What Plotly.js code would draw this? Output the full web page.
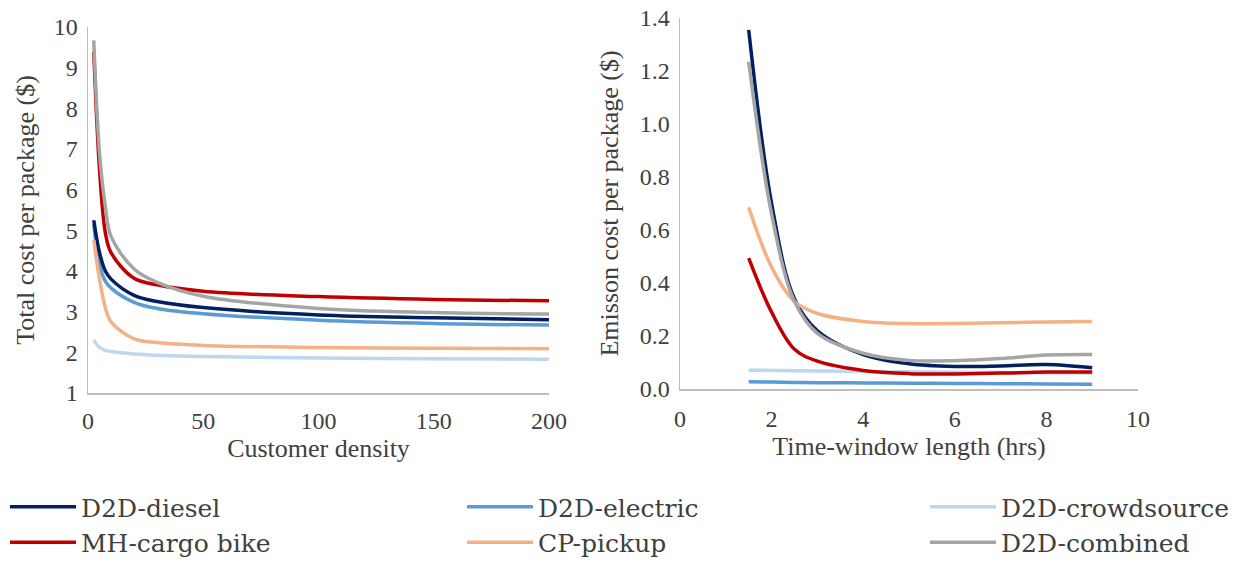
<!DOCTYPE html>
<html>
<head>
<meta charset="utf-8">
<script src="https://cdn.plot.ly/plotly-3.0.1.min.js"></script>
<style>html,body{margin:0;padding:0;background:#fff;}#chart{width:1233px;height:567px;}</style>
</head>
<body>
<div id="chart"></div>
<script>
// ---- Data ----
const seriesNames = ["D2D-diesel", "D2D-electric", "D2D-crowdsource", "MH-cargo bike", "CP-pickup", "D2D-combined"];
const seriesColors = ["#002060", "#5B9BD5", "#BDD7EE", "#C00000", "#F4B183", "#A5A5A5"];
const legendColumn = ["legend", "legend2", "legend3", "legend", "legend2", "legend3"];
const drawOrder = [1, 0, 2, 3, 4, 5];

// Left panel: total cost per package vs customer density
const densityX = [2.5, 5, 7.5, 10, 20, 30, 50, 100, 150, 200];
const costDiesel   = [5.25, 4.45, 4.00, 3.80, 3.40, 3.25, 3.10, 2.92, 2.85, 2.80];
const costElectric = [5.15, 4.15, 3.75, 3.58, 3.23, 3.08, 2.95, 2.79, 2.71, 2.67];
const costCrowd    = [2.30, 2.12, 2.05, 2.02, 1.96, 1.93, 1.90, 1.86, 1.84, 1.83];
const costCargo    = [9.40, 6.50, 4.95, 4.45, 3.82, 3.66, 3.50, 3.37, 3.30, 3.27];
const costPickup   = [4.76, 3.80, 3.10, 2.75, 2.33, 2.24, 2.17, 2.12, 2.10, 2.09];
const costCombined = [9.67, 6.90, 5.60, 4.85, 4.05, 3.72, 3.38, 3.08, 2.98, 2.94];

// Right panel: emission cost per package vs time-window length
const windowX = [1.5, 2, 2.5, 3, 4, 5, 6, 7, 8, 9];
const emDiesel   = [1.355, 0.70, 0.34, 0.22, 0.130, 0.095, 0.085, 0.087, 0.092, 0.080];
const emElectric = [0.027, 0.026, 0.025, 0.024, 0.023, 0.022, 0.021, 0.020, 0.019, 0.018];
const emCrowd    = [0.071, 0.070, 0.069, 0.068, 0.066, 0.065, 0.063, 0.062, 0.061, 0.060];
const emCargo    = [0.494, 0.29, 0.15, 0.105, 0.070, 0.058, 0.057, 0.060, 0.064, 0.064];
const emPickup   = [0.686, 0.46, 0.33, 0.285, 0.255, 0.247, 0.247, 0.250, 0.253, 0.255];
const emCombined = [1.235, 0.66, 0.33, 0.21, 0.135, 0.108, 0.107, 0.115, 0.128, 0.130];

const leftData = [costDiesel, costElectric, costCrowd, costCargo, costPickup, costCombined];
const rightData = [emDiesel, emElectric, emCrowd, emCargo, emPickup, emCombined];

// ---- Traces ----
const traces = [];
drawOrder.forEach((i) => {
  const name = seriesNames[i];
  traces.push({
    x: densityX, y: leftData[i], name: name, type: "scatter", mode: "lines",
    line: {color: seriesColors[i], width: 3.5, shape: "spline", smoothing: 1},
    xaxis: "x", yaxis: "y", legendgroup: name, showlegend: true,
    legend: legendColumn[i], legendrank: i
  });
});
drawOrder.forEach((i) => {
  const name = seriesNames[i];
  traces.push({
    x: windowX, y: rightData[i], name: name, type: "scatter", mode: "lines",
    line: {color: seriesColors[i], width: 3.5, shape: "spline", smoothing: 1},
    xaxis: "x2", yaxis: "y2", legendgroup: name, showlegend: false,
    legend: legendColumn[i]
  });
});

const FAMILY = "Liberation Serif";
function mkFont(size, fam) { return {family: fam || FAMILY, size: size, color: "#404040"}; }
function axisBase() {
  return {
    showline: true, linecolor: "#BFBFBF", linewidth: 1.5, showgrid: false, zeroline: false,
    ticks: "", tickfont: mkFont(24), automargin: false
  };
}
function legendAt(px) {
  return {
    orientation: "v", x: px / 1233, xanchor: "left", y: (567 - 484) / 567, yanchor: "top",
    font: mkFont(25, "DejaVu Serif"), itemwidth: 66, tracegroupgap: 19, traceorder: "normal",
    bgcolor: "rgba(0,0,0,0)"
  };
}

const W = 1233, H = 567;
const layout = {
  width: W, height: H,
  margin: {l: 0, r: 0, t: 0, b: 0, autoexpand: false},
  paper_bgcolor: "#fff", plot_bgcolor: "#fff",
  font: mkFont(24),
  showlegend: true,
  xaxis: Object.assign(axisBase(), {
    domain: [88 / W, 549 / W], range: [0, 200], dtick: 50, anchor: "y", ticklabelstandoff: 6,
    title: {text: "Customer density", font: mkFont(26), standoff: 0}
  }),
  yaxis: Object.assign(axisBase(), {
    domain: [(H - 393) / H, (H - 27) / H], range: [1, 10], dtick: 1, anchor: "x", ticklabelstandoff: 4,
    title: {text: "Total cost per package ($)", font: mkFont(26), standoff: 11}
  }),
  xaxis2: Object.assign(axisBase(), {
    domain: [680 / W, 1138 / W], range: [0, 10], dtick: 2, anchor: "y2", ticklabelstandoff: 8,
    title: {text: "Time-window length (hrs)", font: mkFont(26), standoff: 0}
  }),
  yaxis2: Object.assign(axisBase(), {
    domain: [(H - 389) / H, (H - 18) / H], range: [0, 1.4], dtick: 0.2, tickformat: ".1f", anchor: "x2", ticklabelstandoff: 4,
    title: {text: "Emisson cost per package ($)", font: mkFont(26), standoff: 13}
  }),
  legend: legendAt(5),
  legend2: legendAt(462),
  legend3: legendAt(925)
};

Plotly.newPlot("chart", traces, layout, {displayModeBar: false, staticPlot: true});
</script>
</body>
</html>
